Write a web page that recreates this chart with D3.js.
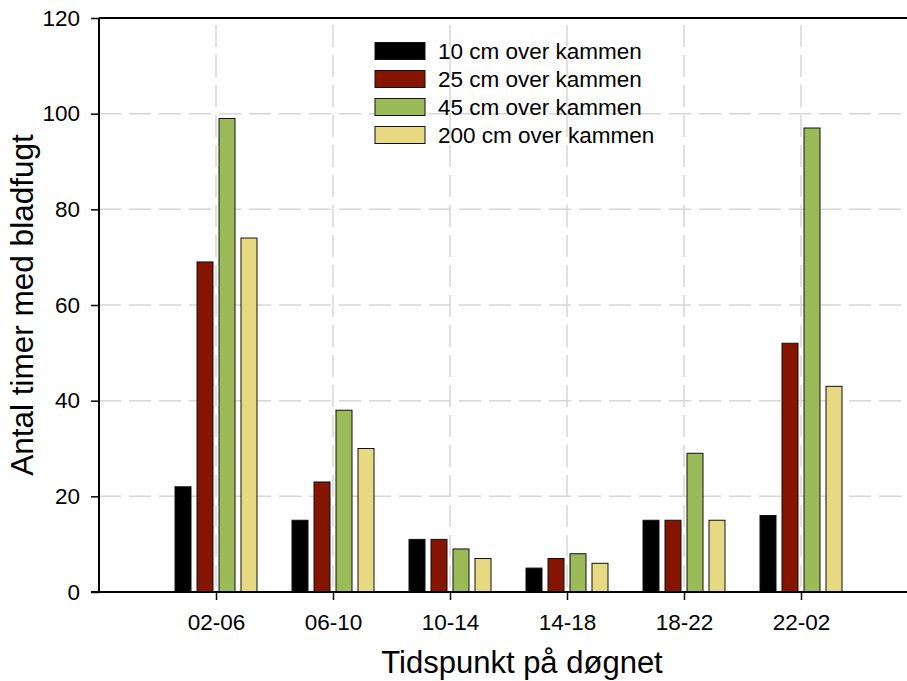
<!DOCTYPE html>
<html>
<head>
<meta charset="utf-8">
<script src="https://cdn.jsdelivr.net/npm/d3@7"></script>
<style>
  html, body { margin: 0; padding: 0; background: #fff; }
  svg { display: block; font-family: "Liberation Sans", Arial, sans-serif; }
</style>
</head>
<body>
<svg id="chart" width="907" height="681"></svg>
<script>
const categories = ["02-06", "06-10", "10-14", "14-18", "18-22", "22-02"];
const seriesNames = ["10 cm over kammen", "25 cm over kammen", "45 cm over kammen", "200 cm over kammen"];
const seriesColors = ["#000000", "#851500", "#9BBB59", "#E7D982"];
const values10 = [22, 15, 11, 5, 15, 16];
const values25 = [69, 23, 11, 7, 15, 52];
const values45 = [99, 38, 9, 8, 29, 97];
const values200 = [74, 30, 7, 6, 15, 43];
const yTicks = [0, 20, 40, 60, 80, 100, 120];
const yTitle = "Antal timer med bladfugt";
const xTitle = "Tidspunkt på døgnet";

const seriesValues = [values10, values25, values45, values200];

const svg = d3.select("#chart");
const plotLeft = 99, plotTop = 18, plotBottom = 592;

const x = d3.scaleLinear().domain([0, 7]).range([plotLeft, plotLeft + 7 * 117]);
const y = d3.scaleLinear().domain([0, 120]).range([plotBottom, plotTop]);
const inner = d3.scaleBand().domain(d3.range(seriesNames.length)).range([-41, 41]).paddingInner(6 / 22).paddingOuter(0);

const catIdx = categories.map((c, i) => i + 1);

// gridlines
const grid = svg.append("g").attr("stroke", "#d6d6d6").attr("stroke-width", 1.5).attr("stroke-dasharray", "22,8");
grid.selectAll("line.h").data(yTicks.filter(t => t > 0 && t < 120)).join("line").attr("class", "h")
  .attr("x1", plotLeft).attr("x2", 907).attr("y1", d => y(d)).attr("y2", d => y(d));
grid.selectAll("line.v").data(catIdx).join("line").attr("class", "v")
  .attr("x1", d => x(d)).attr("x2", d => x(d)).attr("y1", plotTop + 7).attr("y2", plotBottom);

// bars
const bars = [];
seriesValues.forEach((vals, s) => vals.forEach((v, i) => bars.push({ s, i, v })));
svg.append("g").selectAll("rect").data(bars).join("rect")
  .attr("x", d => x(d.i + 1) + inner(d.s))
  .attr("width", inner.bandwidth())
  .attr("y", d => y(d.v))
  .attr("height", d => y(0) - y(d.v))
  .attr("fill", d => seriesColors[d.s])
  .attr("stroke", "#111")
  .attr("stroke-width", 1);

// axes
const yAxis = d3.axisLeft(y).tickValues(yTicks).tickSize(8).tickPadding(11);
const gy = svg.append("g").attr("transform", `translate(${plotLeft},0)`).call(yAxis);
gy.select(".domain").attr("stroke-width", 2).attr("d", `M-8,${plotBottom}H0V${plotTop}`);
gy.selectAll(".tick line").attr("stroke-width", 1.5);
gy.selectAll("text").attr("font-size", 22.5).attr("fill", "#000").attr("font-family", "Liberation Sans, Arial, sans-serif");

const xAxis = d3.axisBottom(x).tickValues(catIdx).tickFormat(d => categories[d - 1]).tickSize(8).tickPadding(14);
const gx = svg.append("g").attr("transform", `translate(0,${plotBottom})`).call(xAxis);
gx.select(".domain").attr("stroke-width", 2).attr("d", `M${plotLeft - 8},0H918`);
gx.selectAll(".tick line").attr("stroke-width", 1.5);
gx.selectAll("text").attr("font-size", 22.5).attr("fill", "#000").attr("font-family", "Liberation Sans, Arial, sans-serif");

// top border
svg.append("line").attr("x1", plotLeft).attr("x2", 918).attr("y1", plotTop).attr("y2", plotTop)
  .attr("stroke", "#000").attr("stroke-width", 2);

// legend
const leg = svg.append("g");
seriesNames.forEach((n, i) => {
  const cy = 51 + 28 * i;
  leg.append("rect").attr("x", 375).attr("y", cy - 8.5).attr("width", 50).attr("height", 17)
    .attr("fill", seriesColors[i]).attr("stroke", "#111").attr("stroke-width", 1);
  leg.append("text").attr("x", 438).attr("y", cy + 8).attr("font-size", 22.5).attr("fill", "#000").text(n);
});

// titles
svg.append("text").attr("x", 522).attr("y", 673).attr("text-anchor", "middle")
  .attr("font-size", 31).attr("fill", "#000").text(xTitle);
svg.append("text").attr("transform", `translate(33,305) rotate(-90)`).attr("text-anchor", "middle")
  .attr("font-size", 31.5).attr("fill", "#000").text(yTitle);
</script>
</body>
</html>
